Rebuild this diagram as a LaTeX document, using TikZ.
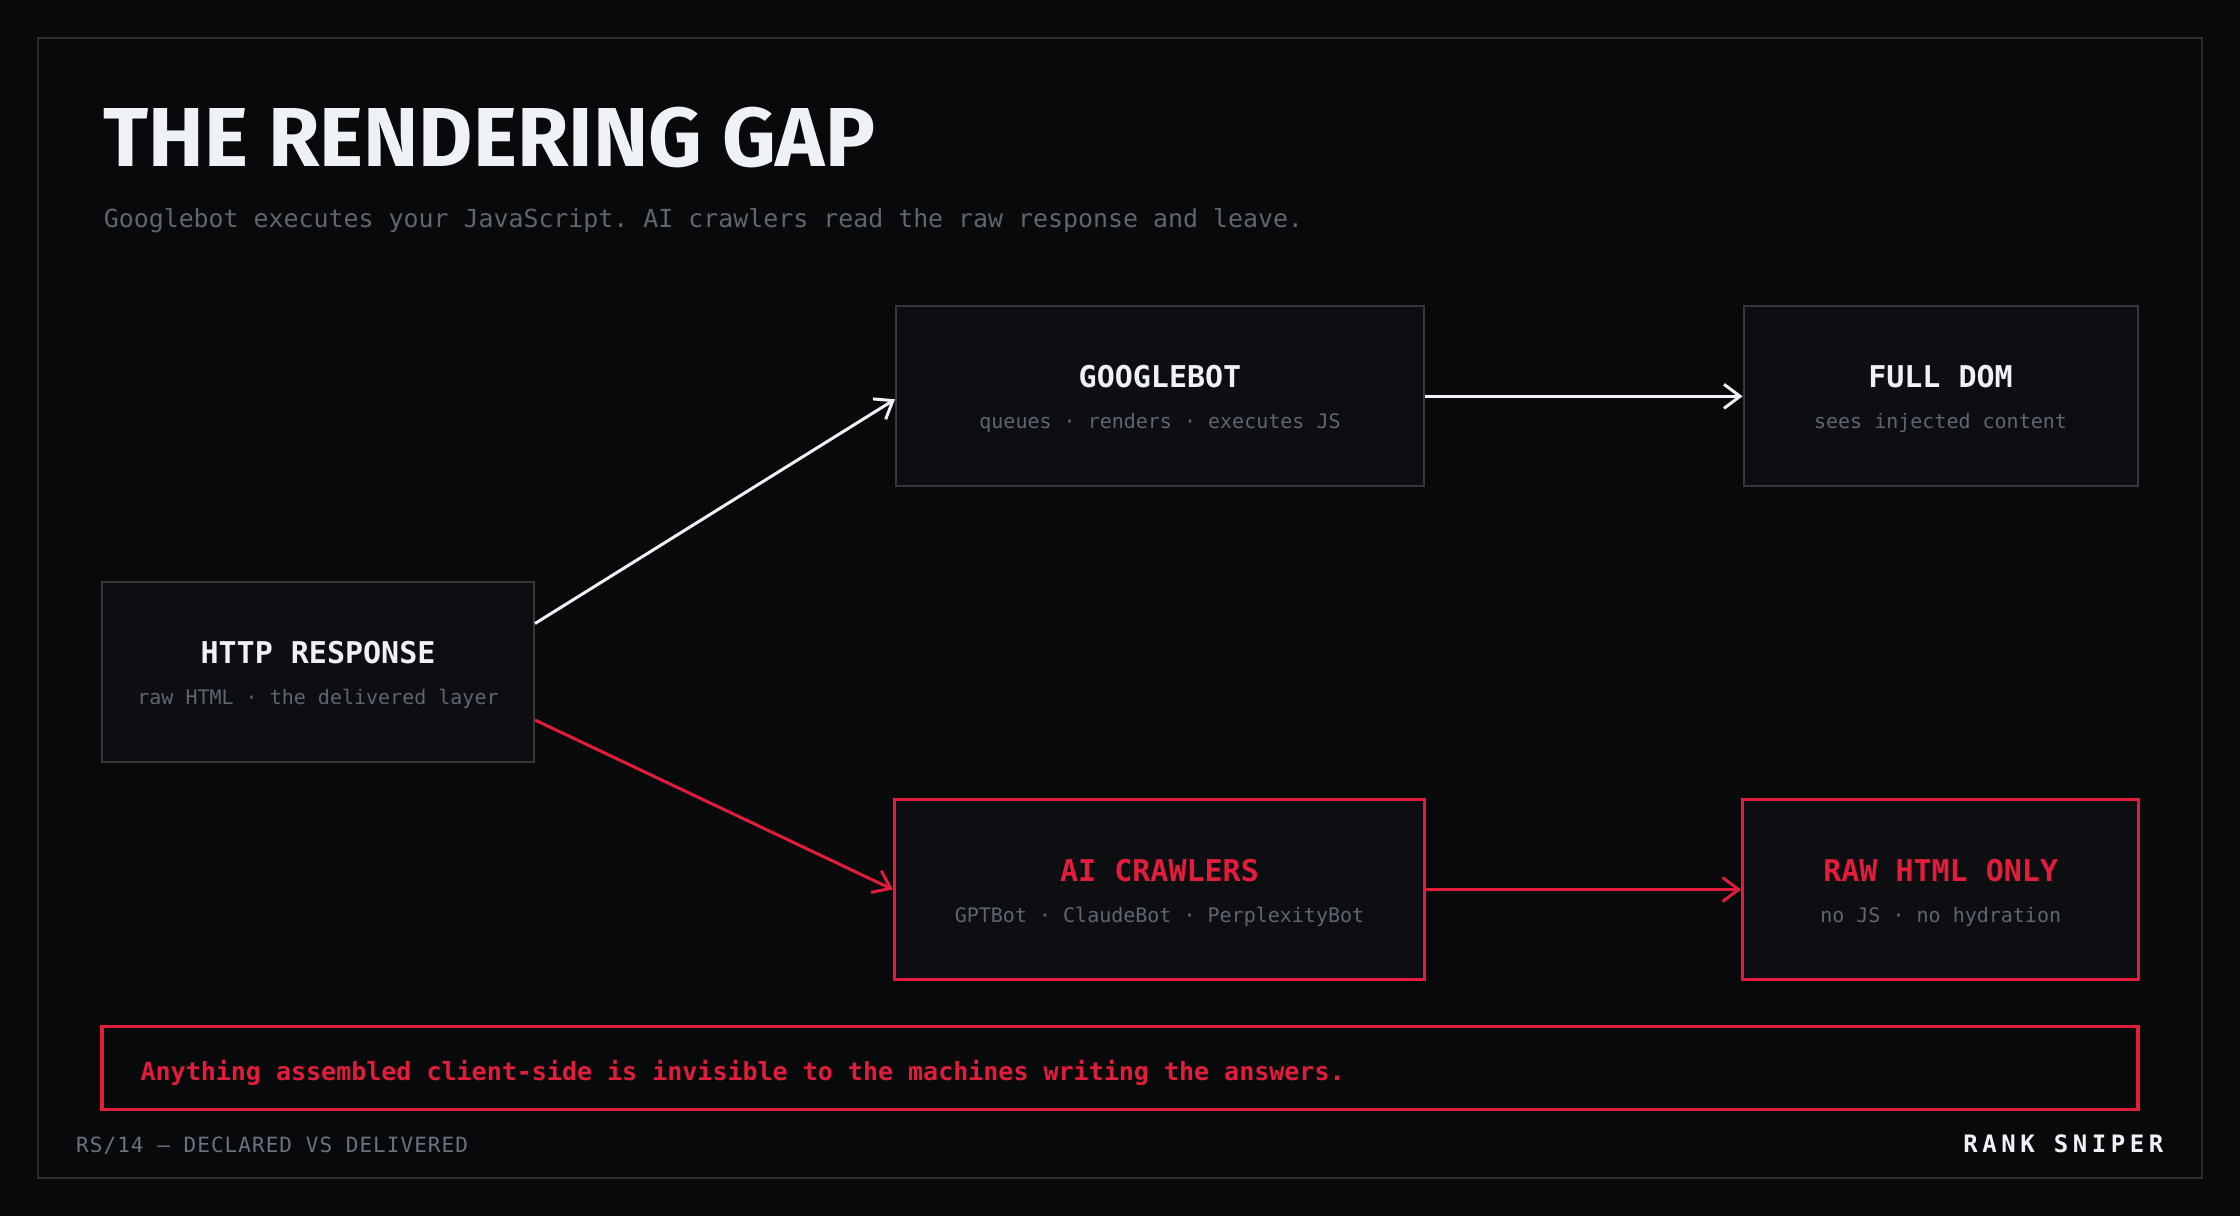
\documentclass[tikz,border=0pt]{standalone}
\usepackage{fontspec}
\usetikzlibrary{arrows.meta}
\setmonofont{DejaVu Sans Mono}
\newfontfamily\titlefont{Fira Sans}
\newfontfamily\footfont{DejaVu Sans Mono}[LetterSpace=5]
\newfontfamily\brandfont{DejaVu Sans Mono}[LetterSpace=19]
\definecolor{bgc}{HTML}{08090B}
\definecolor{framec}{HTML}{2A2C30}
\definecolor{boxfill}{HTML}{0D0E12}
\definecolor{boxline}{HTML}{35373B}
\definecolor{redc}{HTML}{E21C3B}
\definecolor{whitec}{HTML}{EEF1F6}
\definecolor{grayc}{HTML}{5F6670}
\definecolor{footc}{HTML}{6B7280}
\tikzset{
  box/.style={draw=boxline, line width=2pt, fill=boxfill, minimum width=#1, minimum height=180pt, inner sep=0pt},
  redbox/.style={draw=redc, line width=3.3pt, fill=boxfill, minimum width=#1, minimum height=180pt, inner sep=0pt},
  ttl/.style={anchor=base, inner sep=0pt, text=whitec, font=\ttfamily\bfseries\fontsize{30}{36}\selectfont},
  redttl/.style={ttl, text=redc},
  sub/.style={anchor=base, inner sep=0pt, text=grayc, font=\ttfamily\fontsize{20}{24}\selectfont},
  warr/.style={draw=whitec, line width=3pt, -{Straight Barb[length=16pt,width=24pt,line width=3pt]}},
  rarr/.style={draw=redc, line width=3pt, -{Straight Barb[length=16pt,width=24pt,line width=3pt]}}
}
\begin{document}
\begin{tikzpicture}[x=1pt,y=-1pt]
\useasboundingbox (0,0) rectangle (2240,1216);
\fill[bgc] (0,0) rectangle (2240,1216);
\draw[framec, line width=2pt] (38.4,38.3) rectangle (2201.7,1177.7);

\node[anchor=base west, inner sep=0pt, text=whitec] (title) at (103.6,166.7)
  {\resizebox{771pt}{59.4pt}{\titlefont\bfseries THE RENDERING GAP}};
\node[anchor=base west, inner sep=0pt, text=grayc, font=\ttfamily\fontsize{24.9}{30}\selectfont] (subtitle) at (103.6,227.7)
  {Googlebot executes your JavaScript. AI crawlers read the raw response and leave.};

% boxes
\node[box=432pt] (http) at (318,671.5) {};
\node[box=528pt] (google) at (1160,396.3) {};
\node[box=394pt] (dom) at (1940.5,396.3) {};
\node[redbox=530pt] (ai) at (1159.5,889.5) {};
\node[redbox=396pt] (raw) at (1940.7,889.5) {};

\node[ttl] (httpT) at ([yshift=8.5pt]http.center) {HTTP RESPONSE};
\node[sub] (httpS) at ([yshift=-32.5pt]http.center) {raw HTML · the delivered layer};
\node[ttl] (googleT) at ([yshift=8.5pt]google.center) {GOOGLEBOT};
\node[sub] (googleS) at ([yshift=-32.5pt]google.center) {queues · renders · executes JS};
\node[ttl] (domT) at ([yshift=8.5pt]dom.center) {FULL DOM};
\node[sub] (domS) at ([yshift=-32.5pt]dom.center) {sees injected content};
\node[redttl] (aiT) at ([yshift=8.5pt]ai.center) {AI CRAWLERS};
\node[sub] (aiS) at ([yshift=-32.5pt]ai.center) {GPTBot · ClaudeBot · PerplexityBot};
\node[redttl] (rawT) at ([yshift=8.5pt]raw.center) {RAW HTML ONLY};
\node[sub] (rawS) at ([yshift=-32.5pt]raw.center) {no JS · no hydration};

% connectors
\coordinate (httpUp) at ([yshift=48pt]http.east);
\coordinate (httpDn) at ([yshift=-48.5pt]http.east);
\draw[warr] (httpUp) -- ([yshift=-3pt]google.west);
\draw[rarr] (httpDn) -- (ai.west);
\draw[warr] (google.east) -- (dom.west);
\draw[rarr] (ai.east) -- (raw.west);

% banner
\node[draw=redc, line width=3.3pt, fill=bgc, minimum width=2036pt, minimum height=83pt, inner sep=0pt] (banner) at (1120,1068.3) {};
\node[anchor=base west, inner sep=0pt, text=redc, font=\ttfamily\bfseries\fontsize{25}{30}\selectfont] (bannerT) at (140.4,1080.7)
  {Anything assembled client-side is invisible to the machines writing the answers.};

% footer
\node[anchor=base west, inner sep=0pt, text=footc, font=\footfont\fontsize{21}{26}\selectfont] (footL) at (76,1152.7) {RS/14 — DECLARED VS DELIVERED};
\node[anchor=base east, inner sep=0pt, text=whitec, font=\brandfont\bfseries\fontsize{24}{30}\selectfont] (footR) at (2163.6,1152.3) {RANK SNIPER};
\end{tikzpicture}
\end{document}
